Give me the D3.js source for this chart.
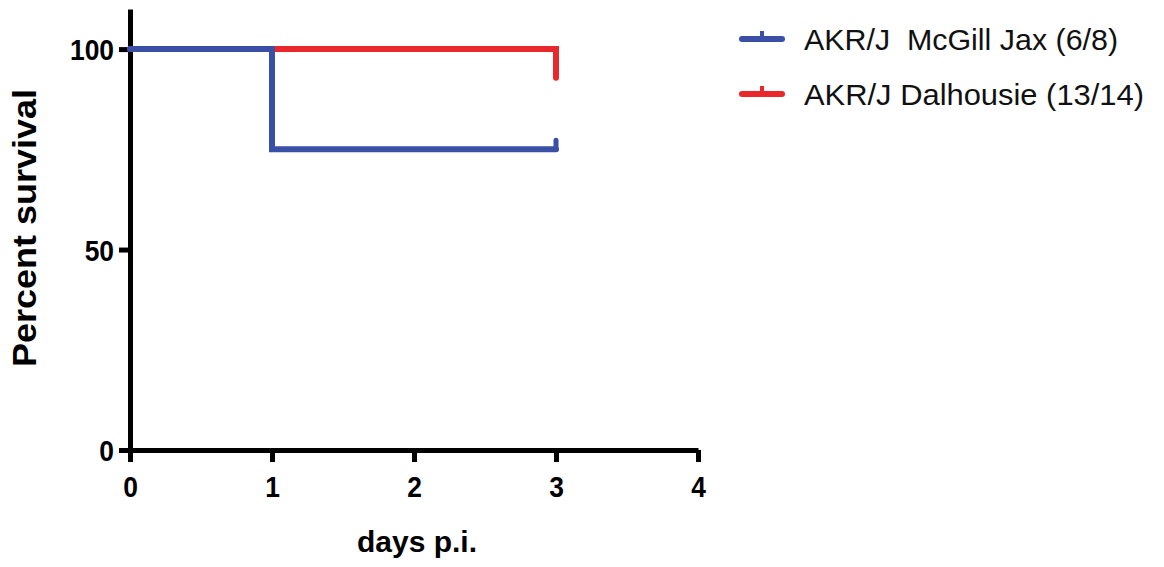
<!DOCTYPE html>
<html>
<head>
<meta charset="utf-8">
<script src="https://cdn.jsdelivr.net/npm/d3@7"></script>
<style>
  body { margin: 0; background: #fff; }
  text { font-family: "Liberation Sans", Arial, sans-serif; }
</style>
</head>
<body>
<svg width="1164" height="567"></svg>
<script>
// survival data (Kaplan-Meier steps)
const seriesNames = ["AKR/J  McGill Jax (6/8)", "AKR/J Dalhousie (13/14)"]
const seriesColors = ["#3a4fa6", "#e8282c"]
const jaxDays = [0, 1, 3]
const jaxSurvival = [100, 75, 75]
const jaxCensored = [3]
const dalDays = [0, 3]
const dalSurvival = [100, 92.86]
const dalCensored = []
const xTicks = [0, 1, 2, 3, 4]
const yTicks = [0, 50, 100]

const svg = d3.select("svg")

// scales
const x = d3.scaleLinear().domain([0, 4]).range([130, 698])
const y = d3.scaleLinear().domain([0, 110]).range([450, 9])

// axes
const xAxis = svg.append("g")
    .attr("transform", `translate(0,${y(0)})`)
    .call(d3.axisBottom(x).tickValues(xTicks).tickSize(12).tickSizeOuter(0).tickPadding(10).tickFormat(d3.format("d")))
const yAxis = svg.append("g")
    .attr("transform", `translate(${x(0)},0)`)
    .call(d3.axisLeft(y).tickValues(yTicks).tickSize(11).tickSizeOuter(0).tickPadding(3).tickFormat(d3.format("d")))

svg.selectAll(".domain, .tick line")
    .attr("stroke", "#000")
    .attr("stroke-width", 5)
svg.selectAll(".tick text")
    .attr("fill", "#000")
    .style("font-family", "'Liberation Sans', Arial, sans-serif")
    .style("font-size", "30px")
    .style("font-weight", "bold")
    .attr("transform", "scale(0.88,1)") // digits are a bit condensed
yAxis.selectAll(".tick text").attr("x", -16 / 0.88).attr("dy", "0.36em")
xAxis.selectAll(".tick text").attr("y", 47).attr("dy", null)

// axis titles
svg.append("text")
    .attr("transform", "translate(36,228) rotate(-90)")
    .attr("text-anchor", "middle")
    .attr("textLength", 278)
    .attr("lengthAdjust", "spacingAndGlyphs")
    .style("font-size", "34px")
    .style("font-weight", "bold")
    .text("Percent survival")

svg.append("text")
    .attr("x", 417)
    .attr("y", 552)
    .attr("text-anchor", "middle")
    .style("font-size", "30px")
    .style("font-weight", "bold")
    .text("days p.i.")

// lines
const line = d3.line()
    .x(d => x(d[0]))
    .y(d => y(d[1]))
    .curve(d3.curveStepAfter)

const series = [
    { days: dalDays, surv: dalSurvival, cens: dalCensored, color: seriesColors[1] },
    { days: jaxDays, surv: jaxSurvival, cens: jaxCensored, color: seriesColors[0] }
]

series.forEach(s => {
    let pts = s.days.map((d, i) => [d, s.surv[i]])
    svg.append("path")
        .datum(pts)
        .attr("d", line)
        .attr("fill", "none")
        .attr("stroke", s.color)
        .attr("stroke-width", 6)
        .attr("stroke-linecap", "round")

    // censor ticks
    s.cens.forEach(c => {
        let idx = d3.bisectRight(s.days, c) - 1
        svg.append("line")
            .attr("x1", x(c)).attr("x2", x(c))
            .attr("y1", y(s.surv[idx]))
            .attr("y2", y(s.surv[idx]) - 9)
            .attr("stroke", s.color)
            .attr("stroke-width", 5)
            .attr("stroke-linecap", "round")
    })
})

// legend
const legendWidths = [314, 340]
const legend = svg.append("g")
seriesNames.forEach((name, i) => {
    let ly = 39 + i * 55
    let g = legend.append("g").attr("transform", `translate(0,${ly})`)
    g.append("line")
        .attr("x1", 742).attr("x2", 782)
        .attr("y1", 0).attr("y2", 0)
        .attr("stroke", seriesColors[i])
        .attr("stroke-width", 6)
        .attr("stroke-linecap", "round")
    g.append("line")
        .attr("x1", 762).attr("x2", 762)
        .attr("y1", 0).attr("y2", -8)
        .attr("stroke", seriesColors[i])
        .attr("stroke-width", 4)
    g.append("text")
        .attr("x", 804)
        .attr("y", 11)
        .style("font-size", "29px")
        .attr("fill", "#111")
        .attr("xml:space", "preserve")
        .style("white-space", "pre")
        .attr("textLength", legendWidths[i])
        .attr("lengthAdjust", "spacingAndGlyphs")
        .text(name)
})
</script>
</body>
</html>
